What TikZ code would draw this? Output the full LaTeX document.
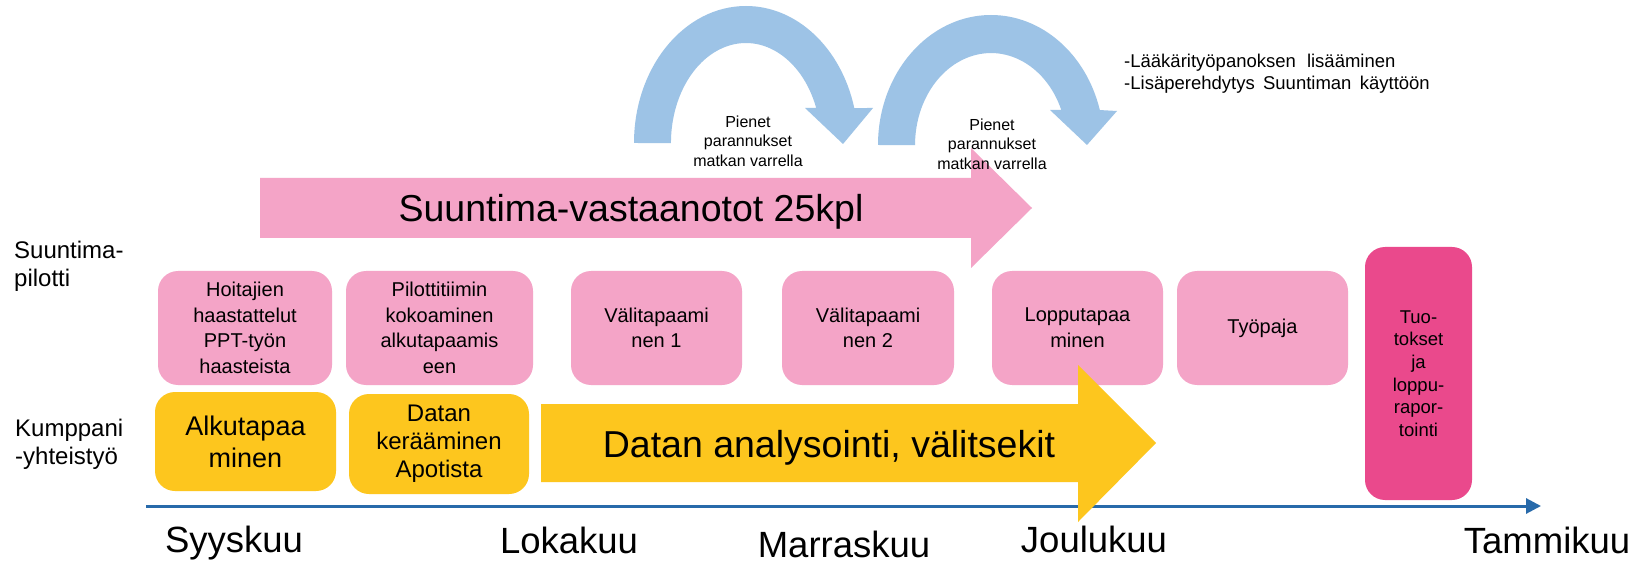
\documentclass[tikz,border=0pt]{standalone}
\usepackage{fontspec}
\setmainfont{Liberation Sans}
\usetikzlibrary{arrows.meta}
\definecolor{arcblue}{RGB}{157,195,230}
\definecolor{softpink}{RGB}{244,164,199}
\definecolor{deeppink}{RGB}{234,73,140}
\definecolor{gold}{RGB}{253,198,30}
\definecolor{axisblue}{RGB}{40,106,170}
\newcommand\fsz[2]{\fontsize{#1}{#2}\selectfont}

\begin{document}
\begin{tikzpicture}[x=1pt,y=-1pt,
  box/.style={rounded corners=20pt, inner sep=0pt, align=center, text=black},
  pinkbox/.style={box, fill=softpink, font=\fsz{20}{25.7}},
  goldbox/.style={box, fill=gold},
  finalbox/.style={box, fill=deeppink, font=\fsz{18.5}{22.7}},
  turnarrow/.style={fill=arcblue},
  note/.style={inner sep=0pt, align=center, font=\fsz{16}{19.3}},
  rowlabel/.style={inner sep=0pt, align=left, anchor=west, font=\fsz{24}{28}},
  month/.style={inner sep=0pt, anchor=base, font=\fsz{36.5}{40}},
  bigtext/.style={inner sep=0pt, anchor=base, font=\fsz{37.5}{40}},
  axisline/.style={draw=axisblue, line width=3pt, -{Triangle[length=15pt,width=15pt]}}
]
\useasboundingbox (0,0) rectangle (1643,561);
\fill[white] (0,0) rectangle (1643,561);

% curved improvement arrows
\fill[turnarrow] (634,143) arc[start angle=180, end angle=345.2, x radius=112, y radius=137]
  -- (873,108) -- (843,144) -- (805,108) -- (816.2,108)
  arc[start angle=339.5, end angle=180, x radius=75, y radius=100] -- cycle;
\fill[turnarrow] (878,145) arc[start angle=180, end angle=344.4, x radius=113, y radius=130]
  -- (1117,111) -- (1087,145) -- (1050,110) -- (1061.3,110)
  arc[start angle=337.6, end angle=180, x radius=76, y radius=92] -- cycle;

% reception block arrow
\fill[softpink] (260,178) -- (971,178) -- (971,148) -- (1032,208) -- (971,268) -- (971,238) -- (260,238) -- cycle;
\node[bigtext] (vastaanotot) at (631,222) {Suuntima-vastaanotot 25kpl};

\node[note] (parannus1) at (748,141) {Pienet\\parannukset\\matkan varrella};
\node[note] (parannus2) at (992,144) {Pienet\\parannukset\\matkan varrella};

\node[inner sep=0pt, anchor=west, align=left, font=\fsz{18.5}{22}] (lisat) at (1124,73.5)
  {-Lääkärityöpanoksen\hspace{0.6em}lisääminen\\-Lisäperehdytys\hspace{0.45em}Suuntiman\hspace{0.45em}käyttöön};

% row labels
\node[rowlabel] (pilotti) at (14,266) {Suuntima-\\pilotti};
\node[rowlabel] (kumppani) at (15,444) {Kumppani\\-yhteistyö};

% pilot meetings
\node[pinkbox, minimum width=174pt, minimum height=114pt] (hoitajat) at (245,328) {Hoitajien\\haastattelut\\PPT-työn\\haasteista};
\node[pinkbox, minimum width=187pt, minimum height=114pt] (tiimi) at (439.5,328) {Pilottitiimin\\kokoaminen\\alkutapaamis\\een};
\node[pinkbox, minimum width=171pt, minimum height=114pt] (vali1) at (656.5,328) {Välitapaami\\nen 1};
\node[pinkbox, minimum width=172pt, minimum height=114pt] (vali2) at (868,328) {Välitapaami\\nen 2};
\node[pinkbox, minimum width=171pt, minimum height=114pt] (loppu) at (1077.5,328) {Lopputapaa\\minen};
\node[pinkbox, minimum width=171pt, minimum height=114pt] (tyopaja) at (1262.5,328) {Työpaja};

\node[finalbox, minimum width=107pt, minimum height=253pt] (tuotokset) at (1418.5,373.5) {Tuo-\\tokset\\ja\\loppu-\\rapor-\\tointi};

% timeline
\coordinate (axstart) at (146,506);
\coordinate (axend) at (1541,506);
\draw[axisline] (axstart) -- (axend);

% partner work
\node[goldbox, font=\fsz{27}{32}, minimum width=181pt, minimum height=99pt] (alku) at (245.5,441.5) {Alkutapaa\\minen};
\node[goldbox, font=\fsz{24}{28}, minimum width=180pt, minimum height=100pt] (data) at (439,444) {Datan\\kerääminen\\Apotista};

\fill[gold] (541,404) -- (1078,404) -- (1078,365) -- (1156,443) -- (1078,522) -- (1078,482) -- (541,482) -- cycle;
\node[bigtext] (analyysi) at (829,457) {Datan analysointi, välitsekit};

% months
\node[month] (syys) at (234,552) {Syyskuu};
\node[month] (loka) at (569,553) {Lokakuu};
\node[month] (marras) at (844,557) {Marraskuu};
\node[month] (joulu) at (1094,552) {Joulukuu};
\node[month] (tammi) at (1547,553) {Tammikuu};
\end{tikzpicture}
\end{document}
